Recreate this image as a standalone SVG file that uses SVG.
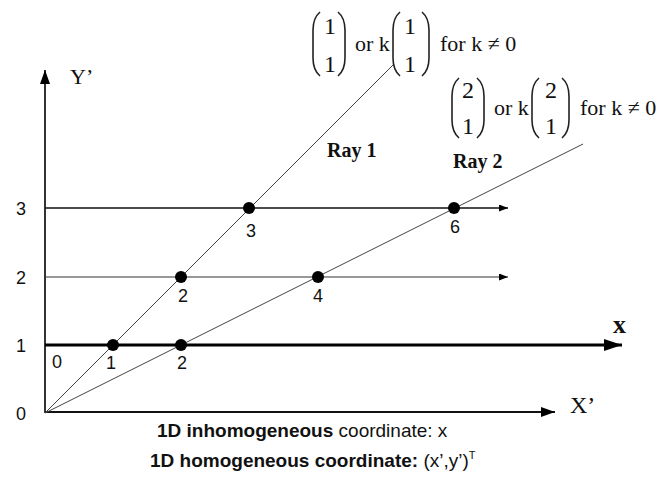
<svg xmlns="http://www.w3.org/2000/svg" width="662" height="478" viewBox="0 0 662 478">
<defs>
<style>
.serif{font-family:"Liberation Serif","Times New Roman",serif;fill:#111}
.sans{font-family:"Liberation Sans",Arial,sans-serif;fill:#111}
.b{font-weight:bold}
.num{font-family:"Liberation Sans",Arial,sans-serif;font-size:18px;fill:#111;text-anchor:middle}
.ray{stroke:#444;stroke-width:1;fill:none}
.paren{stroke:#222;stroke-width:1.6;fill:none}
.dot{fill:#000}
</style>
<marker id="ahBig" viewBox="0 0 18 12" refX="18" refY="6" markerWidth="18" markerHeight="12" markerUnits="userSpaceOnUse" orient="auto"><path d="M0,0 L18,6 L0,12 Z" fill="#000"/></marker>
<marker id="ahMid" viewBox="0 0 14 10" refX="14" refY="5" markerWidth="14" markerHeight="10" markerUnits="userSpaceOnUse" orient="auto"><path d="M0,0 L14,5 L0,10 Z" fill="#000"/></marker>
<marker id="ahSmall" viewBox="0 0 9 7" refX="9" refY="3.5" markerWidth="9" markerHeight="7" markerUnits="userSpaceOnUse" orient="auto"><path d="M0,0 L9,3.5 L0,7 Z" fill="#000"/></marker>
</defs>
<rect width="662" height="478" fill="#fff"/>

<g id="connectors">
  <line id="y-axis" x1="45" y1="413" x2="45" y2="70" stroke="#333" stroke-width="2" marker-end="url(#ahMid)"/>
  <line id="xp-axis" x1="45" y1="412" x2="555" y2="412" stroke="#111" stroke-width="2" marker-end="url(#ahMid)"/>
  <line id="x-axis" x1="45" y1="345" x2="622" y2="345" stroke="#000" stroke-width="3" marker-end="url(#ahBig)"/>
  <line id="line-y2" x1="45" y1="277" x2="508" y2="277" stroke="#333" stroke-width="1.2" marker-end="url(#ahSmall)"/>
  <line id="line-y3" x1="45" y1="208" x2="508" y2="208" stroke="#111" stroke-width="1.5" marker-end="url(#ahSmall)"/>
  <line id="ray1" class="ray" x1="45" y1="413" x2="393" y2="65"/>
  <line id="ray2" class="ray" x1="45" y1="413" x2="583" y2="144"/>
</g>

<g id="axis-labels">
  <text class="serif" x="70" y="84" font-size="22">Y’</text>
  <text class="serif b" x="613" y="333" font-size="26">x</text>
  <text class="serif" x="570" y="413" font-size="24">X’</text>
  <text class="num" x="21" y="215">3</text>
  <text class="num" x="21" y="284">2</text>
  <text class="num" x="21" y="352">1</text>
  <text class="num" x="21" y="420">0</text>
  <text class="num" x="57" y="368">0</text>
</g>

<g id="p-1-1"><circle class="dot" cx="113" cy="345" r="6"/><text class="num" x="111" y="369">1</text></g>
<g id="p-2-1"><circle class="dot" cx="181" cy="345" r="6"/><text class="num" x="182" y="369">2</text></g>
<g id="p-2-2"><circle class="dot" cx="181" cy="277" r="6"/><text class="num" x="183" y="302">2</text></g>
<g id="p-4-2"><circle class="dot" cx="318" cy="277" r="6"/><text class="num" x="318" y="302">4</text></g>
<g id="p-3-3"><circle class="dot" cx="249" cy="208" r="6"/><text class="num" x="251" y="237">3</text></g>
<g id="p-6-3"><circle class="dot" cx="454" cy="208" r="6"/><text class="num" x="455" y="233">6</text></g>

<g id="ray1-label"><text class="serif b" x="327" y="157" font-size="20">Ray 1</text></g>
<g id="ray2-label"><text class="serif b" x="453" y="168" font-size="20">Ray 2</text></g>

<g id="formula1">
  <path class="paren" d="M320,12 Q313,18 313,30 L313,58 Q313,70 320,76"/>
  <text class="serif" x="330" y="34" font-size="24" text-anchor="middle">1</text>
  <text class="serif" x="330" y="72" font-size="24" text-anchor="middle">1</text>
  <path class="paren" d="M338,12 Q345,18 345,30 L345,58 Q345,70 338,76"/>
  <text class="serif" x="355" y="51" font-size="22">or k</text>
  <path class="paren" d="M400,12 Q393,18 393,30 L393,58 Q393,70 400,76"/>
  <text class="serif" x="410" y="34" font-size="24" text-anchor="middle">1</text>
  <text class="serif" x="410" y="72" font-size="24" text-anchor="middle">1</text>
  <path class="paren" d="M422,12 Q429,18 429,30 L429,58 Q429,70 422,76"/>
  <text class="serif" x="440" y="51" font-size="22">for k ≠ 0</text>
</g>

<g id="formula2">
  <path class="paren" d="M459,78 Q452,84 452,96 L452,120 Q452,132 459,138"/>
  <text class="serif" x="468" y="98" font-size="24" text-anchor="middle">2</text>
  <text class="serif" x="468" y="134" font-size="24" text-anchor="middle">1</text>
  <path class="paren" d="M477,78 Q484,84 484,96 L484,120 Q484,132 477,138"/>
  <text class="serif" x="494" y="115" font-size="22">or k</text>
  <path class="paren" d="M539,78 Q532,84 532,96 L532,120 Q532,132 539,138"/>
  <text class="serif" x="551" y="98" font-size="24" text-anchor="middle">2</text>
  <text class="serif" x="551" y="134" font-size="24" text-anchor="middle">1</text>
  <path class="paren" d="M562,78 Q569,84 569,96 L569,120 Q569,132 562,138"/>
  <text class="serif" x="580" y="115" font-size="22">for k ≠ 0</text>
</g>

<g id="caption">
  <text class="sans" x="157" y="437" font-size="19"><tspan class="b">1D inhomogeneous</tspan> coordinate: x</text>
  <text class="sans" x="150" y="467" font-size="19"><tspan class="b">1D homogeneous coordinate:</tspan> (x’,y’)<tspan font-size="11" dy="-8">T</tspan></text>
</g>
</svg>
